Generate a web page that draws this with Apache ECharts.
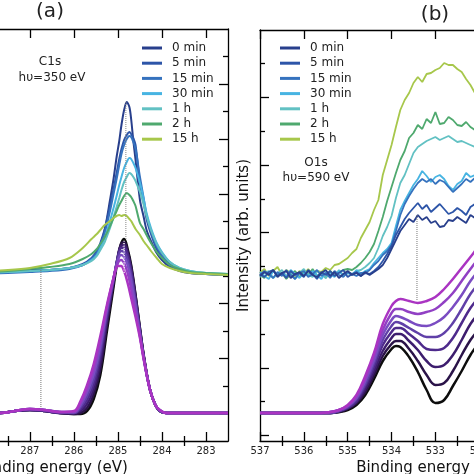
<!DOCTYPE html>
<html><head><meta charset="utf-8">
<script src="https://cdn.jsdelivr.net/npm/echarts@6/dist/echarts.min.js"></script>
<style>html,body{margin:0;padding:0;background:#fff}#c{width:474px;height:474px}</style>
</head><body><div id="c"></div>
<script>
// ---------- legend / colours ----------
const legendNames = ['0 min','5 min','15 min','30 min','1 h','2 h','15 h'];
const legendColors = ['#283f8c','#2d55a8','#3572be','#47b4e2','#62c1c3','#4fa96e','#a7c74b'];
const purpleColors = ['#0d0d0d','#2a1348','#3d1d6e','#4e2a8c','#6040a8','#7a4cc2','#9140c4','#aa34c2'];

// ---------- tick labels ----------
const c1sTickLabels = [283,284,285,286,287,288,289,290];
const c1sMinorTicks = [283.5,284.5,285.5,286.5,287.5,288.5,289.5];
const o1sTickLabels = [530,531,532,533,534,535,536,537];
const o1sMinorTicks = [529.5,530.5,531.5,532.5,533.5,534.5,535.5,536.5];

// ---------- (a) C1s, hv = 350 eV : time series ----------
const c1sE = [288.0,287.5,287.0,286.55,286.1,285.8,285.6,285.48,285.4,285.3,285.18,285.1,285.03,284.97,284.92,284.86,284.8,284.74,284.7,284.65,284.6,284.5,284.42,284.35,284.25,284.12,284.0,283.82,283.6,283.36,283.0,282.5];
const c1s_0min  = [168,169,171,171,173,176,182,188,196,211,241,262,284,300,316,331,339,334,322,300,281,241,225,211,200,188,181,174,170,168,167,166];
const c1s_5min  = [168,169,170,171,173,177,183,190,198,212,235,252,268,282,292,301,306,309,307,303,296,258,240,222,207,192,184,175,171,168,167,166];
const c1s_15min = [167,168,169,170,172,176,182,188,196,208,230,247,262,276,287,296,302,305,304,299,292,264,244,226,210,195,186,177,172,169,167,166];
const c1s_30min = [168,169,170,171,173,176,181,186,193,203,220,233,245,256,264,273,279,283,282,278,273,258,243,228,213,198,189,179,173,170,168,167];
const c1s_1h    = [168,169,170,171,173,176,180,185,191,199,213,224,234,243,251,259,264,268,267,264,260,249,237,225,211,197,188,179,173,170,168,167];
const c1s_2h    = [169,170,172,174,177,182,187,192,197,204,215,223,230,236,240,245,248,246,244,240,235,218,212,206,198,189,183,176,172,169,168,167];
const c1s_15h   = [170,171,173,177,183,193,202,207,211,216,220,223,225,226,225,226,225,222,220,216,212,206,200,196,190,183,177,173,170,168,167,166];

// ---------- (a) C1s reference spectra (purple family) ----------
const c1sRefE = [288.0,287.68,287.34,287.0,286.66,286.32,286.0,285.85,285.7,285.55,285.4,285.25,285.1,285.0,284.93,284.86,284.78,284.7,284.6,284.5,284.4,284.27,284.15,284.05,283.9,282.5];
const c1sRef0 = [28,28,30,31,30,28,27,27,30,42,66,110,154,183,197,202,192,176,146,113,82,51,36,30,28,28];
const c1sRef1 = [28,28,30,31,30,28,27,28,33,47,72,116,158,185,197,199,190,174,145,112,81,51,36,30,28,28];
const c1sRef2 = [28,28,30,31,30,28,28,30,37,52,79,121,160,185,195,196,188,172,143,111,81,51,36,30,28,28];
const c1sRef3 = [28,28,30,31,30,28,28,32,41,57,85,125,161,184,193,193,185,169,141,110,80,51,36,30,28,28];
const c1sRef4 = [28,28,30,32,31,29,28,34,45,62,90,129,162,183,190,189,181,165,138,108,80,51,36,30,28,28];
const c1sRef5 = [28,28,30,32,31,29,29,36,49,67,95,132,163,181,186,184,176,160,134,106,79,51,36,31,28,28];
const c1sRef6 = [28,28,30,32,31,29,29,38,52,72,100,134,163,178,181,178,168,152,129,105,79,51,36,31,28,28];
const c1sRef7 = [28,28,30,32,31,29,30,40,56,77,105,136,163,175,175,170,158,143,124,103,78,51,36,31,28,28];

// ---------- (b) O1s, hv = 590 eV : time series (0.1 eV steps 537.0 -> 531.8) ----------
const o1sE = [537.0,536.9,536.8,536.7,536.6,536.5,536.4,536.3,536.2,536.1,536.0,535.9,535.8,535.7,535.6,535.5,535.4,535.3,535.2,535.1,535.0,534.9,534.8,534.7,534.6,534.5,534.4,534.3,534.2,534.1,534.0,533.9,533.8,533.7,533.6,533.5,533.4,533.3,533.2,533.1,533.0,532.9,532.8,532.7,532.6,532.5,532.4,532.3,532.2,532.1,532.0,531.9,531.8];
const o1s_0min  = [165,169,166,171,164,168,170,163,167,169,165,170,166,164,168,171,165,169,163,167,170,166,168,165,169,166,169,172,176,183,192,201,210,216,222,219,226,221,224,218,220,214,215,221,220,224,221,218,226,223,228,225,229];
const o1s_5min  = [167,164,169,171,165,168,163,170,166,168,164,171,167,162,169,166,170,165,168,171,164,167,169,165,168,167,170,174,180,187,195,206,214,222,228,233,238,232,236,229,233,237,232,227,229,233,230,226,234,237,235,238,236];
const o1s_15min = [166,170,167,163,169,165,171,166,162,168,170,164,167,171,165,168,163,170,166,164,169,167,165,168,168,171,176,180,186,190,196,210,226,237,245,252,258,262,259,262,257,261,259,254,249,253,257,262,259,263,261,258,260];
const o1s_30min = [169,165,162,170,166,168,164,171,167,163,168,165,170,166,162,169,167,164,170,165,168,166,171,167,170,172,178,183,188,192,198,215,231,240,248,256,262,270,265,259,264,266,262,255,251,257,260,268,264,266,265,262,264];
const o1s_1h    = [164,168,170,163,167,171,165,169,162,168,172,166,164,170,167,163,169,165,171,166,168,167,170,171,174,178,183,193,205,214,225,243,258,266,277,288,294,297,300,302,304,301,303,305,302,299,300,298,296,294,293,291,290];
const o1s_2h    = [166,163,169,171,165,168,162,167,170,164,169,166,172,165,168,163,170,166,169,171,172,171,174,178,183,189,197,210,224,240,254,268,281,290,303,308,316,312,322,318,329,317,318,324,321,316,315,319,314,311,312,309,310];
const o1s_15h   = [168,172,165,170,174,166,171,168,163,170,167,172,166,170,169,173,171,176,177,180,183,188,192,203,211,219,231,241,266,281,296,314,331,341,348,358,364,359,367,368,371,373,378,376,376,372,369,362,356,348,341,334,325];

// ---------- (b) O1s reference spectra (purple family) ----------
const o1sRefE = [537.0,536.0,535.6,535.4,535.2,535.0,534.8,534.6,534.4,534.2,534.0,533.9,533.8,533.6,533.4,533.2,533.0,532.8,532.6,532.4,532.2,532.0,531.8];
const o1sRef0 = [28,28,28,28,29,31,36,46,62,80,92,95,94,84,69,51,38,41,55,70,86,98,106];
const o1sRef1 = [28,28,28,28,29,32,38,49,66,85,97,100,100,92,80,66,56,58,70,86,101,112,120];
const o1sRef2 = [28,28,28,28,30,33,39,52,70,90,103,107,107,100,91,80,74,76,86,101,117,128,136];
const o1sRef3 = [28,28,28,28,30,33,40,55,74,96,109,113,113,107,100,92,91,93,103,118,133,144,152];
const o1sRef4 = [28,28,28,28,30,34,42,57,78,101,115,119,118,113,108,104,104,108,118,132,147,158,166];
const o1sRef5 = [28,28,28,29,31,35,43,60,81,106,121,125,124,120,116,115,118,124,134,146,160,171,179];
const o1sRef6 = [28,28,28,29,31,35,45,62,85,111,128,132,132,129,127,129,132,139,148,160,172,183,191];
const o1sRef7 = [28,28,28,29,31,36,46,65,88,117,135,140,142,140,138,140,144,152,162,173,184,195,203];

// ---------- guide lines (dotted) ----------
const c1sGuide1E = [286.75,286.75], c1sGuide1V = [34,171];
const c1sGuide2E = [284.82,284.82], c1sGuide2V = [202,339];
const c1sGuide3E = [284.86,284.86], c1sGuide3V = [168,200];
const o1sGuideE = [533.42,533.42], o1sGuideV = [141,226];

// ---------- build ----------
const FONT = 'DejaVu Sans';
const chart = echarts.init(document.getElementById('c'), null, {renderer:'canvas', width:474, height:474});

function pairs(E, v){ return E.map((e,i)=>[e, v[i]]); }
function line(name, E, v, color, xi, yi, w, smooth, z, type){
  return {type:'line', name, xAxisIndex:xi, yAxisIndex:yi, data:pairs(E,v), symbol:'none', showSymbol:false,
    smooth:smooth, lineStyle:{color, width:w, type:type||'solid'}, itemStyle:{color}, z:z||2,
    silent:true, animation:false, clip:true};
}
const AX = {color:'#000', width:1.3};
function xAx(grid, pos, min, max, ticks, len, extra){
  return Object.assign({type:'value', gridIndex:grid, position:pos, min, max, inverse:true,
    axisLine:{show:true, onZero:false, lineStyle:AX},
    axisTick:{show:true, inside:true, length:len, customValues:ticks, lineStyle:AX},
    axisLabel:{show:false}, splitLine:{show:false}, minorTick:{show:false}}, extra||{});
}
function yAx(grid, pos, min, max, ticks, len, extra){
  return Object.assign({type:'value', gridIndex:grid, position:pos, min, max,
    axisLine:{show:true, onZero:false, lineStyle:AX},
    axisTick:{show:ticks.length>0, inside:true, length:len, customValues:ticks, lineStyle:AX},
    axisLabel:{show:false}, splitLine:{show:false}}, extra||{});
}
// y tick positions (arbitrary units)
const aStep = 412/15, aMajor = [], aMinor = [];
for (let k=1;k<15;k++) (k%2 ? aMajor : aMinor).push(k*aStep);
const bStep = 33.8, bMajor = [], bMinor = [];
for (let k=0;k<12;k++) (k%2 ? bMinor : bMajor).push(5.5 + k*bStep);

const A_MIN = 282.5, A_MAX = 290.45, B_MIN = 529.2, B_MAX = 537;
const labelStyle = {show:true, fontSize:10, color:'#222', margin:5, fontFamily:FONT, formatter:v=>String(v)};
const nameStyle = {fontSize:15, color:'#111', fontFamily:FONT};

const xAxis = [
  xAx(0,'bottom',A_MIN,A_MAX,c1sTickLabels,9,{axisLabel:Object.assign({customValues:c1sTickLabels},labelStyle),
     name:'Binding energy (eV)', nameLocation:'middle', nameGap:15, nameTextStyle:nameStyle}),
  xAx(0,'bottom',A_MIN,A_MAX,c1sMinorTicks,5,{axisLine:{show:false}}),
  xAx(0,'top',A_MIN,A_MAX,c1sTickLabels,9),
  xAx(0,'top',A_MIN,A_MAX,c1sMinorTicks,5,{axisLine:{show:false}}),
  xAx(1,'bottom',B_MIN,B_MAX,o1sTickLabels,9,{axisLabel:Object.assign({customValues:o1sTickLabels},labelStyle),
     name:'Binding energy (eV)', nameLocation:'middle', nameGap:15, nameTextStyle:nameStyle}),
  xAx(1,'bottom',B_MIN,B_MAX,o1sMinorTicks,5,{axisLine:{show:false}}),
  xAx(1,'top',B_MIN,B_MAX,o1sTickLabels,9),
  xAx(1,'top',B_MIN,B_MAX,o1sMinorTicks,5,{axisLine:{show:false}})
];
const yAxis = [
  yAx(0,'left',0,412,[],0),
  yAx(0,'right',0,412,aMajor,9),
  yAx(0,'right',0,412,aMinor,5,{axisLine:{show:false}}),
  yAx(1,'left',0,411,bMajor,9,{name:'Intensity (arb. units)', nameLocation:'middle', nameGap:8,
     nameTextStyle:nameStyle}),
  yAx(1,'left',0,411,bMinor,5,{axisLine:{show:false}}),
  yAx(1,'right',0,411,[],0)
];

const series = [];
const c1sTop = [c1s_0min,c1s_5min,c1s_15min,c1s_30min,c1s_1h,c1s_2h,c1s_15h];
const c1sRef = [c1sRef0,c1sRef1,c1sRef2,c1sRef3,c1sRef4,c1sRef5,c1sRef6,c1sRef7];
const o1sTop = [o1s_0min,o1s_5min,o1s_15min,o1s_30min,o1s_1h,o1s_2h,o1s_15h];
const o1sRef = [o1sRef0,o1sRef1,o1sRef2,o1sRef3,o1sRef4,o1sRef5,o1sRef6,o1sRef7];

c1sRef.forEach((v,i)=>series.push(line('C1s ref '+i, c1sRefE, v, purpleColors[i], 0, 0, 2.5, 0.4, 2)));
c1sTop.forEach((v,i)=>series.push(line(legendNames[i], c1sE, v, legendColors[i], 0, 0, 2, 0.3, 3)));
o1sRef.forEach((v,i)=>series.push(line('O1s ref '+i, o1sRefE, v, purpleColors[i], 4, 3, 2.5, 0.4, 2)));
for (let i=o1sTop.length-1;i>=0;i--) series.push(line(legendNames[i], o1sE, o1sTop[i], legendColors[i], 4, 3, 1.8, false, 3));

series.push(line('g1', c1sGuide1E, c1sGuide1V, '#777', 0, 0, 1, false, 5, 'dotted'));
series.push(line('g2', c1sGuide2E, c1sGuide2V, '#888', 0, 0, 1, false, 5, 'dotted'));
series.push(line('g3', c1sGuide3E, c1sGuide3V, '#ffffff', 0, 0, 1.2, false, 5, 'dotted'));
series.push(line('g4', o1sGuideE, o1sGuideV, '#777', 4, 3, 1, false, 5, 'dotted'));

const legendBase = {orient:'vertical', itemWidth:20, itemHeight:3, itemGap:3.2, icon:'rect', padding:0,
  data:legendNames, selectedMode:false,
  textStyle:{fontSize:12, color:'#222', fontFamily:FONT, padding:[0,0,0,5]}};

const txt = (x,y,s,size)=>({type:'text', x, y, silent:true,
  style:{text:s, font:size+'px "DejaVu Sans"', fill:'#222', align:'center', verticalAlign:'middle'}});

chart.setOption({
  animation:false,
  backgroundColor:'#fff',
  grid:[
    {left:-122, top:29, width:350, height:412, outerBoundsMode:'none', containLabel:false},
    {left:260, top:30, width:342, height:411, outerBoundsMode:'none', containLabel:false}
  ],
  xAxis, yAxis, series,
  legend:[
    Object.assign({left:142, top:42}, legendBase),
    Object.assign({left:280, top:42}, legendBase)
  ],
  graphic:[
    txt(50,12,'(a)',20),
    txt(435,15,'(b)',20),
    txt(50,62,'C1s',12),
    txt(52,78,'hυ=350 eV',12),
    txt(316,163,'O1s',12),
    txt(316,178,'hυ=590 eV',12)
  ]
});
</script>
</body></html>
